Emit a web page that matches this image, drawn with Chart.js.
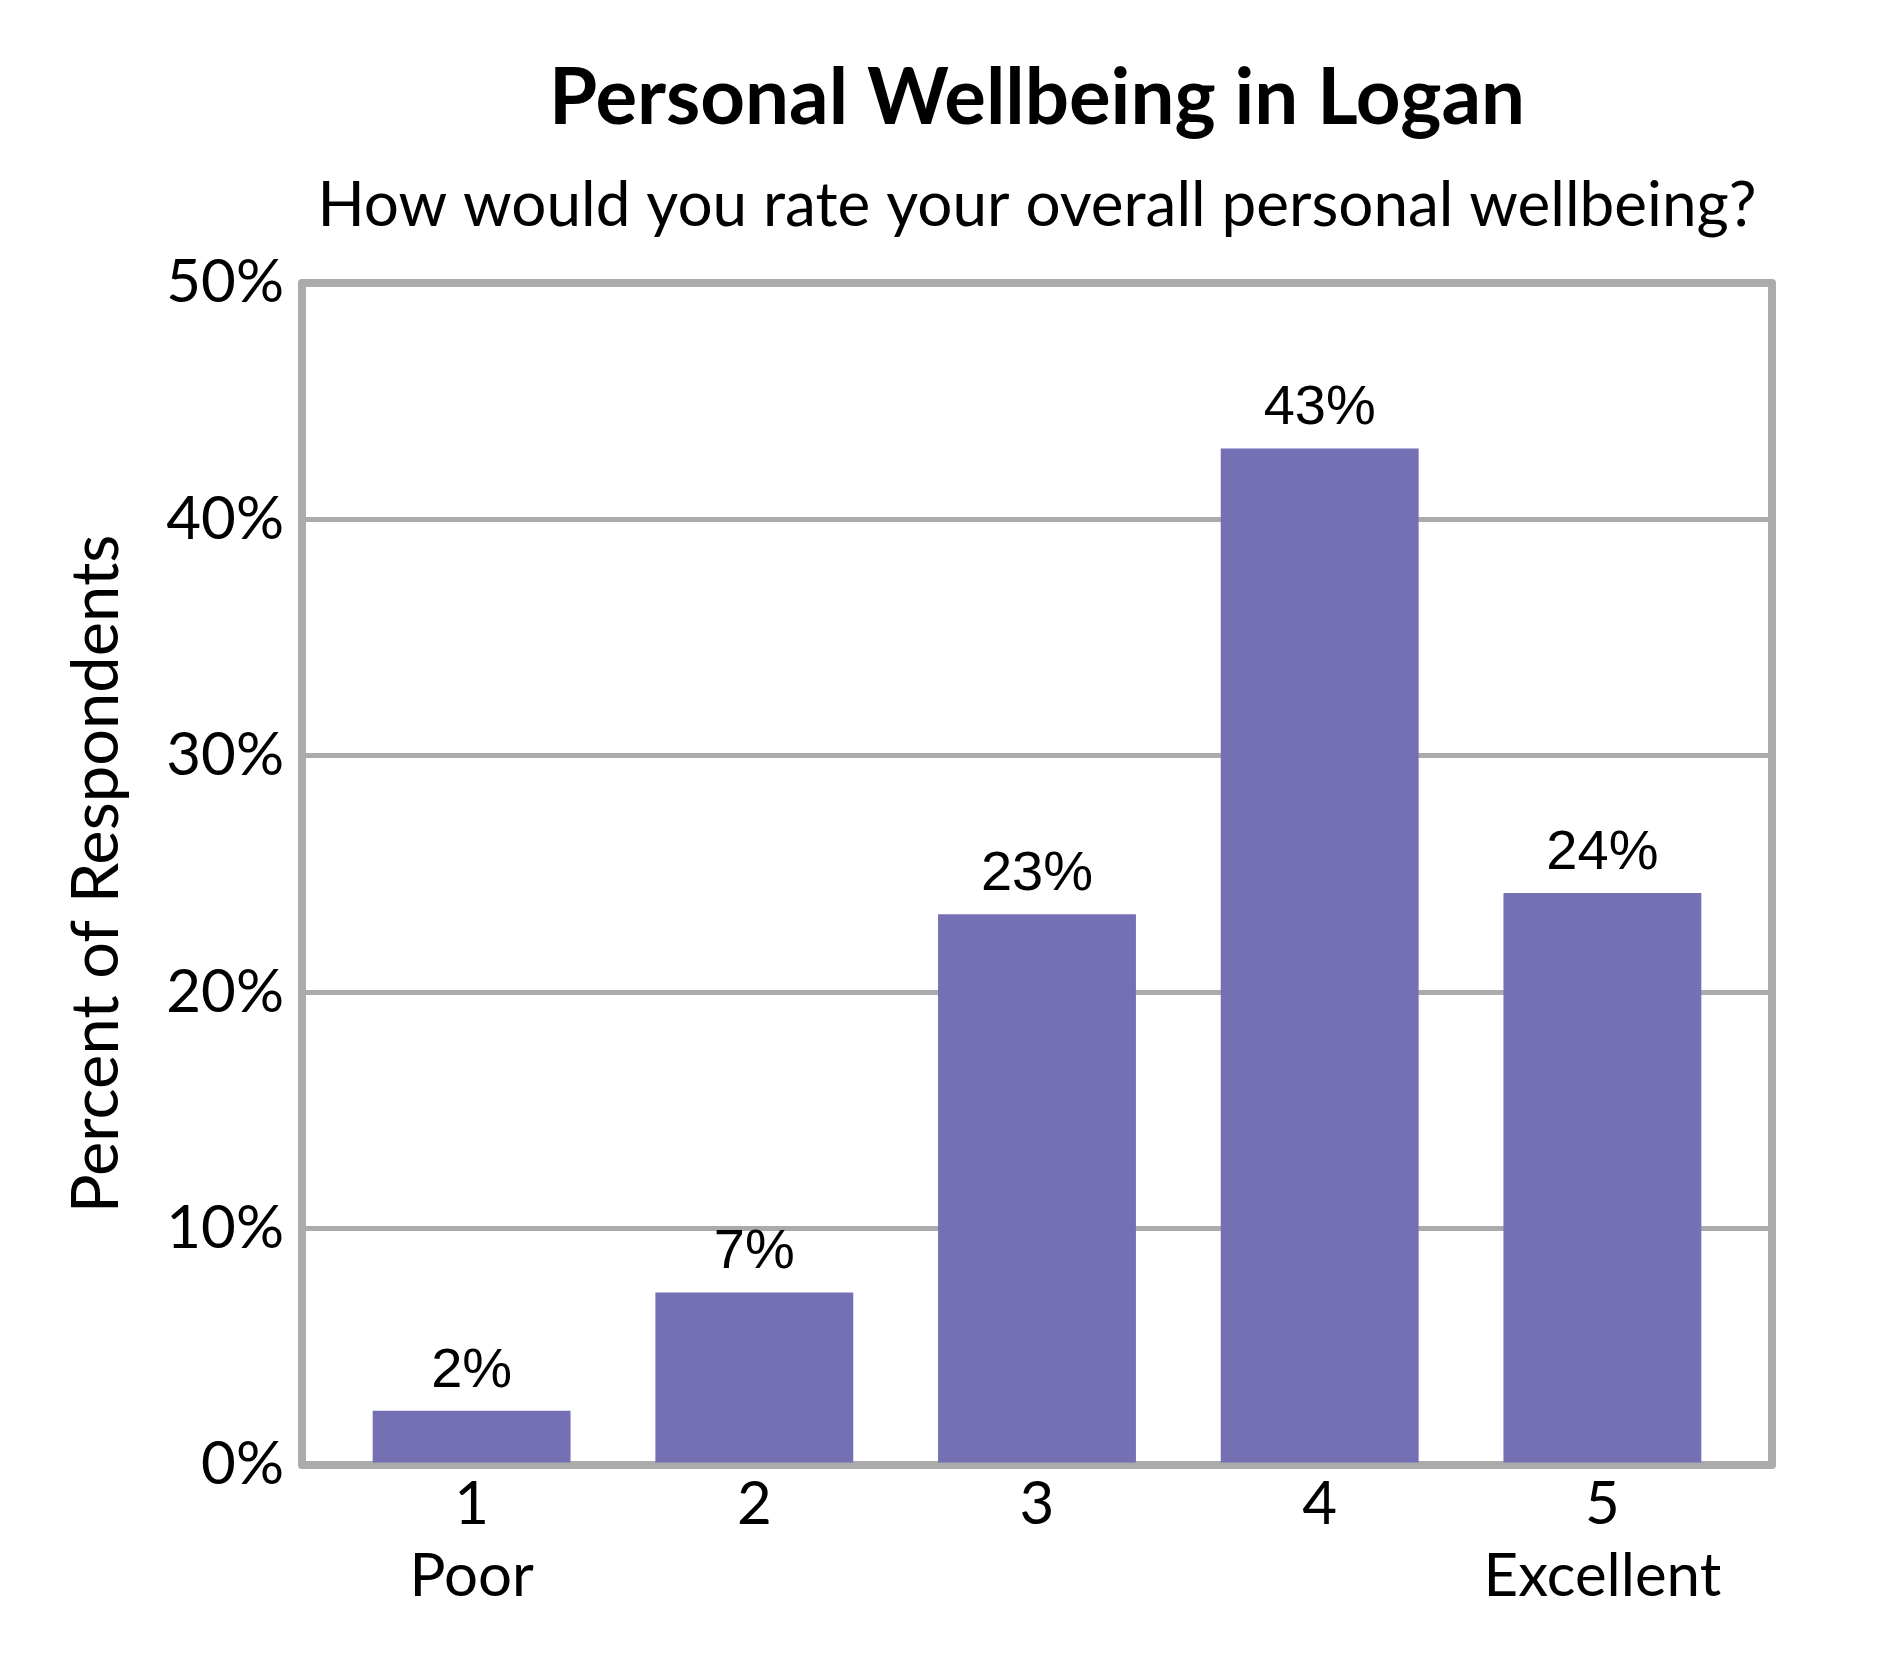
<!DOCTYPE html>
<html>
<head>
<meta charset="utf-8">
<script src="https://cdn.jsdelivr.net/npm/chart.js@4"></script>
<style>
  html, body { margin: 0; padding: 0; background: #ffffff; }
  #wrap { width: 1890px; height: 1680px; }
</style>
</head>
<body>
<div id="wrap"><canvas id="wellbeing"></canvas></div>
<script>
//Rating scale positions and the words under the ends
const ratings = [1, 2, 3, 4, 5];
const ratingWords = ["Poor", "", "", "", "Excellent"];
//Percent of respondents for each rating
const percents = [2.3, 7.3, 23.3, 43.0, 24.2];
//Y axis ticks
const yTicks = [0, 10, 20, 30, 40, 50];

const titleText = "Personal Wellbeing in Logan";
const subtitleText = "How would you rate your overall personal wellbeing?";
const yTitleText = "Percent of Respondents";

const frameGrey = "#ababab";
const barPurple = "#7570b3";

//Title + subtitle centred over the plot area (Excel style)
const headingPlugin = {
  id: "heading",
  afterDraw(chart) {
    const { ctx, chartArea } = chart;
    const cx = (chartArea.left + chartArea.right) / 2;
    ctx.save();
    ctx.fillStyle = "#000000";
    ctx.textAlign = "center";
    ctx.textBaseline = "alphabetic";
    ctx.font = "bold 78px Lato";
    ctx.fillText(titleText, cx, 124);
    ctx.font = "62px Lato";
    ctx.fillText(subtitleText, cx, 226);
    ctx.restore();
  },
};

//Grey box round the plot area
const framePlugin = {
  id: "frame",
  beforeDatasetsDraw(chart) {
    const { ctx, chartArea } = chart;
    ctx.save();
    ctx.strokeStyle = frameGrey;
    ctx.lineWidth = 8;
    ctx.lineJoin = "round";
    ctx.strokeRect(chartArea.left, chartArea.top, chartArea.right - chartArea.left, chartArea.bottom - chartArea.top);
    ctx.restore();
  },
};

//Percent labels above each bar
const valueLabels = {
  id: "valueLabels",
  afterDatasetsDraw(chart) {
    const { ctx } = chart;
    const meta = chart.getDatasetMeta(0);
    ctx.save();
    ctx.fillStyle = "#000000";
    ctx.textAlign = "center";
    ctx.textBaseline = "alphabetic";
    ctx.font = "56px 'Liberation Sans'";
    meta.data.forEach((bar, i) => {
      ctx.fillText(Math.round(percents[i]) + "%", bar.x, bar.y - 24);
    });
    ctx.restore();
  },
};

let myChart = new Chart(document.getElementById("wellbeing"), {
  type: "bar",
  plugins: [headingPlugin, framePlugin, valueLabels],
  data: {
    datasets: [
      {
        data: ratings.map((r, i) => ({ x: r, y: percents[i] })),
        backgroundColor: barPurple,
        borderWidth: 0,
        barPercentage: 0.7,
        categoryPercentage: 1,
      },
    ],
  },
  options: {
    responsive: true,
    maintainAspectRatio: false,
    animation: false,
    devicePixelRatio: 1,
    layout: { padding: { top: 283, right: 118, left: 0, bottom: 0 } },
    plugins: {
      legend: { display: false },
      tooltip: { enabled: false },
    },
    scales: {
      x: {
        type: "linear",
        min: 0.4,
        max: 5.6,
        offset: false,
        grid: { display: false, drawTicks: false, offset: false },
        border: { display: false },
        afterFit: (scale) => { scale.height = 215; },
        ticks: {
          stepSize: 1,
          includeBounds: false,
          autoSkip: false,
          maxRotation: 0,
          padding: 4,
          color: "#000000",
          font: { family: "Lato", size: 60, lineHeight: 1.2 },
          callback: (v) => {
            const i = ratings.indexOf(v);
            if (i < 0) return "";
            return ratingWords[i] ? [String(v), ratingWords[i]] : String(v);
          },
        },
      },
      y: {
        min: yTicks[0],
        max: yTicks[yTicks.length - 1],
        grid: { color: frameGrey, lineWidth: 5, drawTicks: false },
        border: { display: false },
        afterFit: (scale) => { scale.width = 302; },
        ticks: {
          stepSize: 10,
          padding: 18,
          color: "#000000",
          font: { family: "Lato", size: 60 },
          callback: (v) => v + "%",
        },
        title: {
          display: true,
          text: yTitleText,
          color: "#000000",
          font: { family: "Lato", size: 65 },
          padding: { top: 58, bottom: 0 },
        },
      },
    },
  },
});
</script>
</body>
</html>
